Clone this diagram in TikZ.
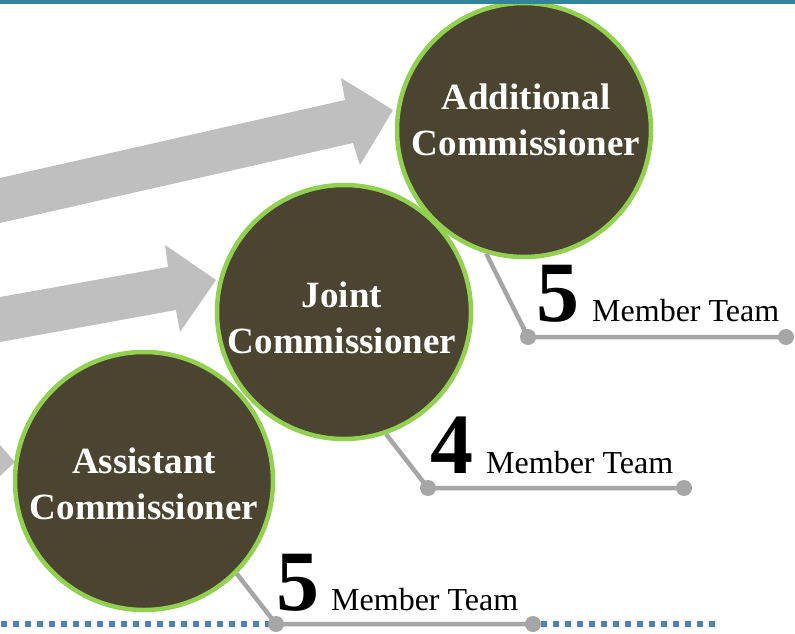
\documentclass[tikz,border=0pt]{standalone}
\usepackage{fontspec}
\setmainfont{Liberation Serif}
\definecolor{olive}{HTML}{4A4430}
\definecolor{lgreen}{HTML}{92D050}
\definecolor{arrowgray}{HTML}{BFBFBF}
\definecolor{callgray}{HTML}{A6A6A6}
\definecolor{teal}{HTML}{31849B}
\definecolor{dotblue}{HTML}{4F81BD}
\tikzset{
  rankcircle/.style={circle, fill=olive, draw=lgreen, line width=4.5pt, inner sep=0pt},
  ctext/.style={text=white, font=\fontsize{37}{45}\selectfont\bfseries, inner sep=0pt, anchor=base},
  bignum/.style={font=\fontsize{86}{90}\selectfont\bfseries, inner sep=0pt, anchor=base west},
  teamlabel/.style={font=\fontsize{32}{36}\selectfont, inner sep=0pt, anchor=base west},
  callout/.style={draw=callgray, line width=4.5pt},
  calldot/.style={circle, fill=callgray, minimum size=16pt, inner sep=0pt},
  bigarrow/.style={fill=arrowgray, draw=none},
  dotline/.style={dotblue, line width=6pt, dash pattern=on 6pt off 6pt}
}
\begin{document}
\begin{tikzpicture}[x=1pt,y=-1pt]
\useasboundingbox (0,0) rectangle (795,634);
% grey arrows
\fill[bigarrow] (0,178) -- (345,100) -- (341,78) -- (393,110) -- (360,165) -- (353,143) -- (0,223) -- cycle;
\fill[bigarrow] (0,297) -- (168,267) -- (165,245) -- (216,280) -- (180,332) -- (176,310) -- (0,342) -- cycle;
\fill[bigarrow] (0,445) -- (15,462) -- (0,476) -- cycle;
% dotted baseline
\coordinate (d0) at (1,624);
\coordinate (d1) at (272,624);
\coordinate (d2) at (541,624);
\coordinate (d3) at (715,624);
\draw[dotline] (d0) -- (d1);
\draw[dotline] (d2) -- (d3);
% circles
\node[rankcircle, minimum size=258pt] (asst) at (144,481) {};
\node[rankcircle, minimum size=254pt] (joint) at (344,312) {};
\node[rankcircle, minimum size=254pt] (add) at (524,130) {};
% circle texts
\node[ctext] (addT1) at (526,110) {Additional};
\node[ctext] (addT2) at (526,155) {Commissioner};
\node[ctext] (jointT1) at (342,307) {Joint};
\node[ctext] (jointT2) at (342,353) {Commissioner};
\node[ctext] (asstT1) at (144,473) {Assistant};
\node[ctext] (asstT2) at (144,519) {Commissioner};
% callouts
\coordinate (c1a) at (528,337);
\coordinate (c1b) at (786,337);
\coordinate (c2a) at (428,488);
\coordinate (c2b) at (684,488);
\coordinate (c3a) at (276,624);
\coordinate (c3b) at (533,624);
\draw[callout] (add.-107) -- (c1a) -- (c1b);
\draw[callout] (joint.-71) -- (c2a) -- (c2b);
\draw[callout] (asst.-45) -- (c3a) -- (c3b);
\foreach \p in {c1a,c1b,c2a,c2b,c3a,c3b} \node[calldot] at (\p) {};
% team labels
\node[bignum] (n1) at (536,321) {5};
\node[teamlabel] (t1) at (592,321) {Member Team};
\node[bignum] (n2) at (430,473) {4};
\node[teamlabel] (t2) at (486,473) {Member Team};
\node[bignum] (n3) at (276,610) {5};
\node[teamlabel] (t3) at (331,610) {Member Team};
% top bar
\fill[teal] (0,0) rectangle (795,4);
\end{tikzpicture}
\end{document}
